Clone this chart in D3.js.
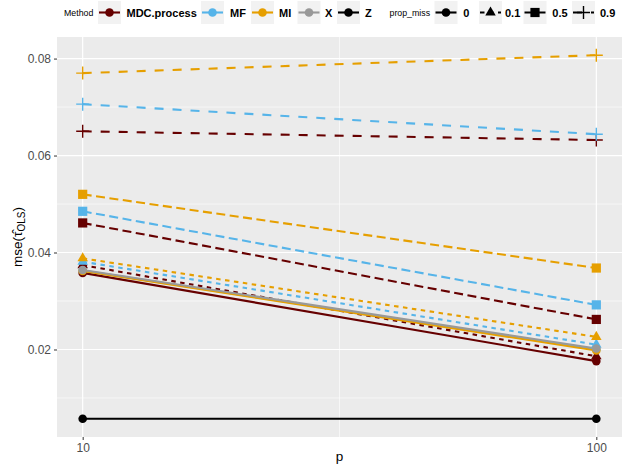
<!DOCTYPE html>
<html>
<head>
<meta charset="utf-8">
<script src="https://cdn.jsdelivr.net/npm/d3@7"></script>
<style>
  html, body { margin: 0; padding: 0; background: #ffffff; }
  svg { display: block; font-family: "Liberation Sans", Arial, sans-serif; }
</style>
</head>
<body>
<svg id="chart" width="627" height="465"></svg>
<script>
// ---------------- data ----------------
const pValues = [10, 100];
const methods = ["MDC.process", "MF", "MI", "X", "Z"];
const propMiss = ["0", "0.1", "0.5", "0.9"];
const methodColors = ["#660000", "#56B4E9", "#E69F00", "#999999", "#000000"];
// mse at p = 10 and p = 100, one row per prop_miss level
const mseMDC = [[0.0358, 0.0176], [0.0374, 0.0186], [0.0461, 0.0262], [0.0650, 0.0632]];
const mseMF  = [[0.0363, 0.0200], [0.0381, 0.0210], [0.0485, 0.0292], [0.0706, 0.0644]];
const mseMI  = [[0.0362, 0.0198], [0.0388, 0.0226], [0.0520, 0.0368], [0.0770, 0.0807]];
const mseX   = [[0.0364, 0.0202]];
const mseZ   = [[0.0057, 0.0057]];
const yTicks = [0.02, 0.04, 0.06, 0.08];
const yMinor = [0.01, 0.03, 0.05, 0.07];
const xTicks = [10, 100];

// ---------------- build rows ----------------
const seriesByMethod = [mseMDC, mseMF, mseMI, mseX, mseZ];
const series = [];
seriesByMethod.forEach((rows, mi) => {
  rows.forEach((vals, pi) => {
    series.push({
      method: methods[mi], color: methodColors[mi], prop: propMiss[pi], pi,
      points: vals.map((v, i) => ({ p: pValues[i], mse: v }))
    });
  });
});

const dashFor = { "0": null, "0.1": "4.5,4.5", "0.5": "9,4.5", "0.9": "9,9" };

// ---------------- layout ----------------
const svg = d3.select("#chart");
const panel = { left: 57, right: 622, top: 37, bottom: 437 };

const lx = [Math.log10(d3.min(pValues)), Math.log10(d3.max(pValues))];
const lxPad = (lx[1] - lx[0]) * 0.05;
const x = d3.scaleLog()
  .domain([Math.pow(10, lx[0] - lxPad), Math.pow(10, lx[1] + lxPad)])
  .range([panel.left, panel.right]);

const allV = series.flatMap(s => s.points.map(d => d.mse));
const yMin = d3.min(allV), yMax = d3.max(allV);
const yPad = (yMax - yMin) * 0.05;
const y = d3.scaleLinear()
  .domain([yMin - yPad, yMax + yPad])
  .range([panel.bottom, panel.top]);

// panel background
svg.append("rect")
  .attr("x", panel.left).attr("y", panel.top)
  .attr("width", panel.right - panel.left).attr("height", panel.bottom - panel.top)
  .attr("fill", "#EBEBEB");

// grid
const g = svg.append("g");
g.selectAll(".ymin").data(yMinor).enter().append("line")
  .attr("x1", panel.left).attr("x2", panel.right)
  .attr("y1", d => y(d)).attr("y2", d => y(d))
  .attr("stroke", "#ffffff").attr("stroke-width", 0.6);
g.append("line")
  .attr("x1", x(Math.sqrt(10 * 100))).attr("x2", x(Math.sqrt(10 * 100)))
  .attr("y1", panel.top).attr("y2", panel.bottom)
  .attr("stroke", "#ffffff").attr("stroke-width", 0.6);
g.selectAll(".ymaj").data(yTicks).enter().append("line")
  .attr("x1", panel.left).attr("x2", panel.right)
  .attr("y1", d => y(d)).attr("y2", d => y(d))
  .attr("stroke", "#ffffff").attr("stroke-width", 1.2);
g.selectAll(".xmaj").data(xTicks).enter().append("line")
  .attr("x1", d => x(d)).attr("x2", d => x(d))
  .attr("y1", panel.top).attr("y2", panel.bottom)
  .attr("stroke", "#ffffff").attr("stroke-width", 1.2);

// axes
const yAxis = d3.axisLeft(y).tickValues(yTicks).tickSize(3).tickPadding(3)
  .tickFormat(d3.format(".2f"));
const yg = svg.append("g").attr("transform", `translate(${panel.left},0)`).call(yAxis);
const xAxis = d3.axisBottom(x).tickValues(xTicks).tickSize(3).tickPadding(3)
  .tickFormat(d3.format("d"));
const xg = svg.append("g").attr("transform", `translate(0,${panel.bottom})`).call(xAxis);
[yg, xg].forEach(a => {
  a.select(".domain").remove();
  a.selectAll(".tick line").attr("stroke", "#333333").attr("stroke-width", 1);
  a.selectAll(".tick text").attr("fill", "#4D4D4D")
    .style("font-size", "12px").style("font-family", "'Liberation Sans', Arial, sans-serif");
});

// axis titles
svg.append("text")
  .attr("x", (panel.left + panel.right) / 2).attr("y", 461)
  .attr("text-anchor", "middle").attr("fill", "#000")
  .style("font-size", "13.5px").text("p");

const yl = svg.append("text")
  .attr("transform", `translate(22,${(panel.top + panel.bottom) / 2}) rotate(-90)`)
  .attr("text-anchor", "middle").attr("fill", "#000")
  .style("font-size", "13.5px");
yl.append("tspan").text("mse(");
yl.append("tspan").text("\u03C4\u0302");
yl.append("tspan").attr("dy", 3).style("font-size", "10px").text("OLS");
yl.append("tspan").attr("dy", -3).text(")");

// lines
const line = d3.line().x(d => x(d.p)).y(d => y(d.mse));
const plot = svg.append("g");
plot.selectAll(".series").data(series).enter().append("path")
  .attr("d", s => line(s.points))
  .attr("fill", "none")
  .attr("stroke", s => s.color)
  .attr("stroke-width", 2.1)
  .attr("stroke-dasharray", s => dashFor[s.prop]);

// markers
function drawShape(sel, prop, color, cx, cy) {
  if (prop === "0") {
    sel.append("circle").attr("cx", cx).attr("cy", cy).attr("r", 4.3).attr("fill", color);
  } else if (prop === "0.1") {
    const s = 10.5, h = s * Math.sqrt(3) / 2;
    sel.append("path")
      .attr("d", `M${cx},${cy - h * 2 / 3}L${cx + s / 2},${cy + h / 3}L${cx - s / 2},${cy + h / 3}Z`)
      .attr("fill", color);
  } else if (prop === "0.5") {
    sel.append("rect").attr("x", cx - 4.6).attr("y", cy - 4.6)
      .attr("width", 9.2).attr("height", 9.2).attr("fill", color);
  } else {
    const a = 6.5;
    sel.append("path")
      .attr("d", `M${cx - a},${cy}L${cx + a},${cy}M${cx},${cy - a}L${cx},${cy + a}`)
      .attr("stroke", color).attr("stroke-width", 1.4).attr("fill", "none");
  }
}
const pts = svg.append("g");
series.forEach(s => {
  s.points.forEach(d => drawShape(pts, s.prop, s.color, x(d.p), y(d.mse)));
});

// ---------------- legend ----------------
const leg = svg.append("g");
const legCy = 12.5, keyW = 23, keyH = 23;
leg.append("text").attr("x", 64).attr("y", legCy + 3).attr("fill", "#000")
  .style("font-size", "8.8px").text("Method");
const methodKeyX = [98, 201, 251, 297.5, 337];
const methodTextX = [126.5, 230, 279, 325, 365];
methods.forEach((m, i) => {
  const kx = methodKeyX[i];
  leg.append("rect").attr("x", kx).attr("y", legCy - keyH / 2)
    .attr("width", keyW).attr("height", keyH).attr("fill", "#F2F2F2");
  leg.append("line").attr("x1", kx + 1).attr("x2", kx + keyW - 1)
    .attr("y1", legCy).attr("y2", legCy)
    .attr("stroke", methodColors[i]).attr("stroke-width", 2.1);
  drawShape(leg, "0", methodColors[i], kx + keyW / 2, legCy);
  leg.append("text").attr("x", methodTextX[i]).attr("y", legCy + 4)
    .attr("fill", "#000").style("font-size", "11px").style("font-weight", "bold").text(m);
});
leg.append("text").attr("x", 389.5).attr("y", legCy + 3).attr("fill", "#000")
  .style("font-size", "8.8px").text("prop_miss");
const propKeyX = [434.5, 479, 523.5, 572];
const propTextX = [463.3, 505, 552.3, 600];
propMiss.forEach((p, i) => {
  const kx = propKeyX[i];
  leg.append("rect").attr("x", kx).attr("y", legCy - keyH / 2)
    .attr("width", keyW).attr("height", keyH).attr("fill", "#F2F2F2");
  leg.append("line").attr("x1", kx + 1).attr("x2", kx + keyW - 1)
    .attr("y1", legCy).attr("y2", legCy)
    .attr("stroke", "#000").attr("stroke-width", 2.1)
    .attr("stroke-dasharray", dashFor[p]);
  drawShape(leg, p, "#000", kx + keyW / 2, legCy);
  leg.append("text").attr("x", propTextX[i]).attr("y", legCy + 4)
    .attr("fill", "#000").style("font-size", "11px").style("font-weight", "bold").text(p);
});
</script>
</body>
</html>
